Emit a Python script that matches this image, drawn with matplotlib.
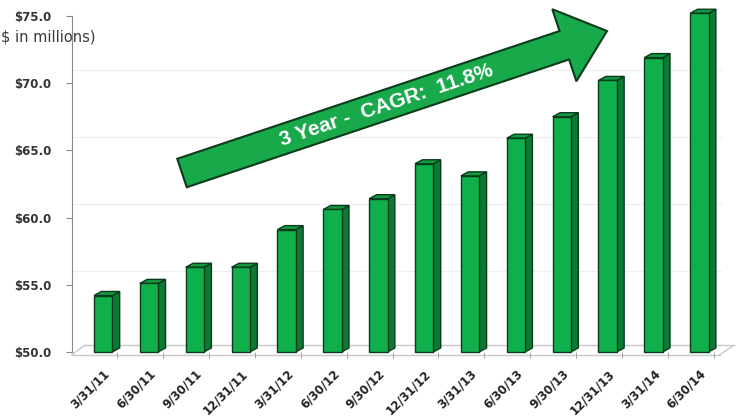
import matplotlib.pyplot as plt
from matplotlib.patches import Polygon
import matplotlib.transforms as mtrans
import numpy as np

dates = ["3/31/11", "6/30/11", "9/30/11", "12/31/11", "3/31/12", "6/30/12", "9/30/12",
         "12/31/12", "3/31/13", "6/30/13", "9/30/13", "12/31/13", "3/31/14", "6/30/14"]
values = [54.2, 55.1, 56.3, 56.3, 59.1, 60.6, 61.4, 64.0, 63.1, 65.9, 67.5, 70.2, 71.9, 75.2]
yticks = [50, 55, 60, 65, 70, 75]
ylabels = ["$50.0", "$55.0", "$60.0", "$65.0", "$70.0", "$75.0"]

FRONT = "#0fb04b"
SIDE = "#0b7a34"
TOP = "#139a40"
EDGE = "#0a3a1a"
W = 0.40       # front face width
DX, DY = 0.16, 0.30   # fake 3d depth (data units)

plt.rcParams['font.family'] = ['DejaVu Sans']
fig = plt.figure(figsize=(7.39, 4.2), dpi=100)
ax = fig.add_axes([0.0974, 0.162, 0.88, 0.800])
x = np.arange(len(values))

# floor
ax.plot([-0.68, 13.45], [49.8, 49.8], color="#c8c8c8", lw=1, clip_on=False, zorder=1)
ax.plot([-0.4, 13.75], [50.5, 50.5], color="#c8c8c8", lw=1, clip_on=False, zorder=1)
ax.plot([13.45, 13.75], [49.8, 50.5], color="#c8c8c8", lw=1, clip_on=False, zorder=1)
ax.plot([-0.68, -0.4], [49.8, 50.5], color="#c8c8c8", lw=1, clip_on=False, zorder=1)

for yv in yticks[1:]:
    ax.axhline(yv + 1.0, color="#eeeeee", lw=0.8, zorder=0)

ax.bar(x, np.array(values) - 50, bottom=50, width=W, color=FRONT, edgecolor=EDGE,
       lw=1.0, zorder=3, clip_on=False)
for xi, v in zip(x, values):
    r = xi + W / 2
    l = xi - W / 2
    side = Polygon([(r, 50), (r + DX, 50 + DY), (r + DX, v + DY), (r, v)],
                   closed=True, fc=SIDE, ec=EDGE, lw=1.0, zorder=2, clip_on=False)
    top = Polygon([(l, v), (l + DX, v + DY), (r + DX, v + DY), (r, v)],
                  closed=True, fc=TOP, ec=EDGE, lw=1.0, zorder=2, clip_on=False)
    ax.add_patch(side)
    ax.add_patch(top)

ax.set_xlim(-0.68, 13.5)
ax.set_ylim(50, 75)
ax.set_yticks(yticks)
ax.set_yticklabels(ylabels, fontsize=8.5, fontweight="bold", color="#333333")
ax.set_xticks(x)
ax.set_xticklabels(dates, rotation=45, ha="right", rotation_mode="anchor",
                   fontsize=8.5, fontweight="bold", color="#222222")
shift = mtrans.ScaledTranslation(-3 / 100, 0, fig.dpi_scale_trans)
for lab in ax.get_xticklabels():
    lab.set_transform(lab.get_transform() + shift)
ax.tick_params(axis="x", length=0, pad=11)
ax.set_xticks(x + 0.31, minor=True)
ax.tick_params(axis="x", which="minor", length=4, color="#999999")
ax.tick_params(axis="y", length=4, color="#888888", pad=11)
for s in ["top", "right", "bottom"]:
    ax.spines[s].set_visible(False)
ax.spines["left"].set_color("#888888")

fig.text(1 / 739, 1 - 37 / 420, "$ in millions)", fontsize=10.5,
         color="#3a3a3a", va="center", ha="left")

# big trend arrow (pixel geometry of the slide)
tail = np.array([182.0, 173.0])
tip = np.array([607.0, 31.0])
u = (tip - tail) / np.linalg.norm(tip - tail)
n = np.array([u[1], -u[0]])
L = np.linalg.norm(tip - tail)
hw, hhw, hl = 15, 38, 45
pts = [tail + n * hw, tail + u * (L - hl) + n * hw, tail + u * (L - hl) + n * hhw, tip,
       tail + u * (L - hl) - n * hhw, tail + u * (L - hl) - n * hw, tail - n * hw]
pts = [(p[0] / 739, 1 - p[1] / 420) for p in pts]
fig.add_artist(Polygon(pts, closed=True, transform=fig.transFigure, fc="#17a94a",
                       ec="#0b3b1a", lw=1.5, zorder=5))
ang = np.degrees(np.arctan2(-(tip[1] - tail[1]), tip[0] - tail[0]))
mid = tail + u * 0.48 * L
fig.text(mid[0] / 739, 1 - mid[1] / 420, "3 Year -  CAGR:  11.8%", rotation=ang,
         rotation_mode="anchor", ha="center", va="center", fontsize=15,
         fontweight="bold", color="white", zorder=6, family=["Liberation Sans"])

fig.savefig("out.png", dpi=100)
